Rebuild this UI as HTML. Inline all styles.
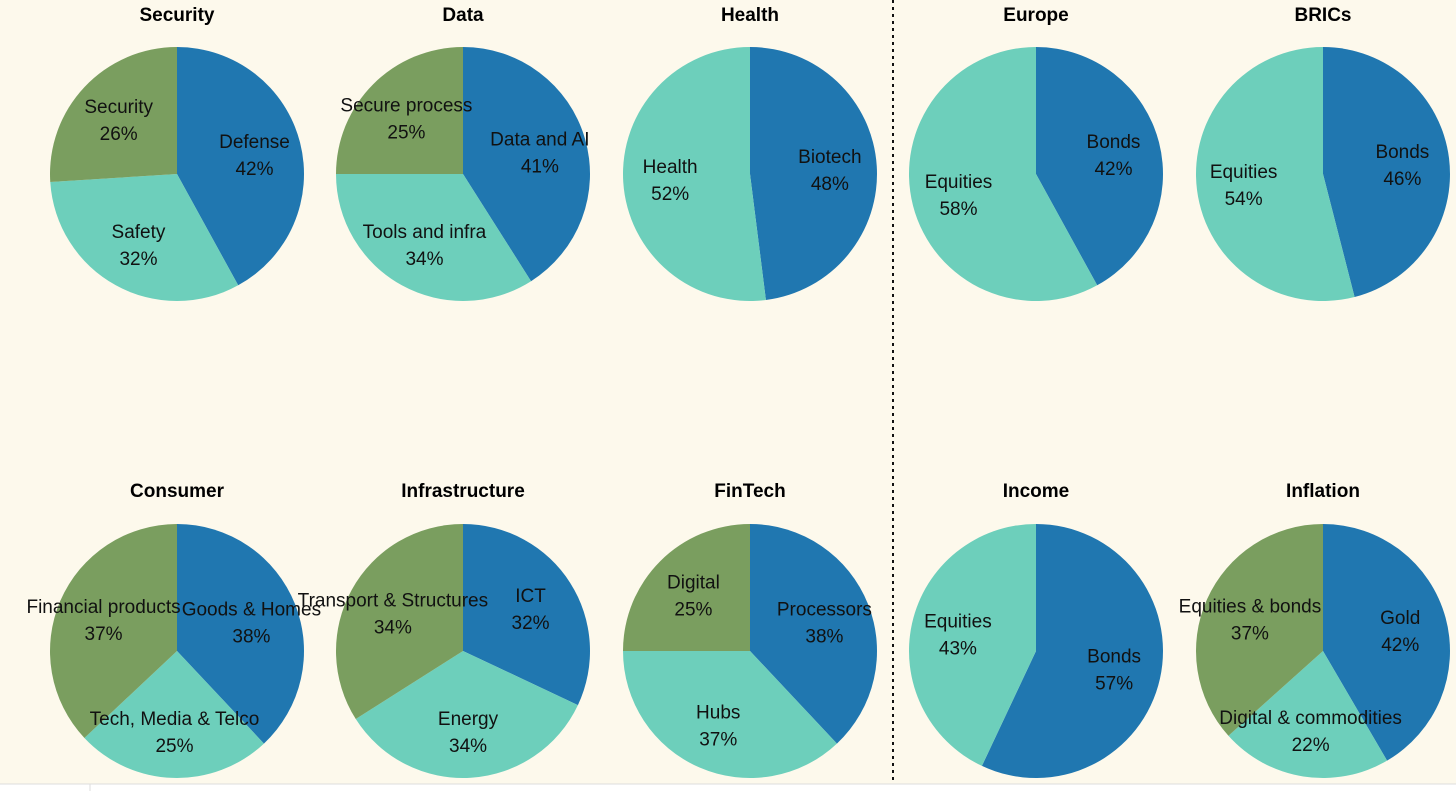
<!DOCTYPE html>
<html><head><meta charset="utf-8"><style>
html,body{margin:0;padding:0;background:#fdf9ec;}
svg{display:block;font-family:"Liberation Sans",sans-serif;}
</style></head><body>
<svg id="c" width="1456" height="791">
<rect x="0" y="0" width="1456" height="791" fill="#fdf9ec"/>
<rect x="0" y="784" width="1456" height="7" fill="#ffffff"/>
<line x1="0" y1="784" x2="1456" y2="784" stroke="#dddddd"/>
<line x1="90" y1="784" x2="90" y2="791" stroke="#dddddd"/>
<line x1="893" y1="0" x2="893" y2="780" stroke="#111" stroke-width="2" stroke-dasharray="3,4"/>
</svg>
<script>
const titles = ["Security","Data","Health","Europe","BRICs","Consumer","Infrastructure","FinTech","Income","Inflation"];
const sliceLabels = [
 ["Defense","Safety","Security"],
 ["Data and AI","Tools and infra","Secure process"],
 ["Biotech","Health"],
 ["Bonds","Equities"],
 ["Bonds","Equities"],
 ["Goods & Homes","Tech, Media & Telco","Financial products"],
 ["ICT","Energy","Transport & Structures"],
 ["Processors","Hubs","Digital"],
 ["Bonds","Equities"],
 ["Gold","Digital & commodities","Equities & bonds"]
];
const sliceValues = [
 [42,32,26],[41,34,25],[48,52],[42,58],[46,54],
 [38,25,37],[32,34,34],[38,37,25],[57,43],[42,22,37]
];
const svg = document.getElementById('c');
const NS = 'http://www.w3.org/2000/svg';
const colors = ['#2077b0','#6dcfbb','#7a9e5f'];
const cxs = [177,463,750,1036,1323];
const R = 127;
function mk(tag, attrs){const e=document.createElementNS(NS,tag);for(const k in attrs)e.setAttribute(k,attrs[k]);svg.appendChild(e);return e;}
titles.forEach((t,i)=>{
  const cx = cxs[i%5], cy = i<5?174:651, ty = i<5?14:490;
  const tt = mk('text',{x:cx,y:ty+7,'text-anchor':'middle','font-size':19,'font-weight':'bold',fill:'#000'});
  tt.textContent = t;
  
  
  const vals = sliceValues[i];
  const total = vals.reduce((a,b)=>a+b,0);
  let a0 = 0;
  const labels=[];
  vals.forEach((v,j)=>{
    const a1 = a0 + v/total*2*Math.PI;
    const x0 = cx+R*Math.sin(a0), y0 = cy-R*Math.cos(a0);
    const x1 = cx+R*Math.sin(a1), y1 = cy-R*Math.cos(a1);
    const large = (a1-a0)>Math.PI?1:0;
    const p = mk('path',{d:`M${cx},${cy} L${x0},${y0} A${R},${R} 0 ${large} 1 ${x1},${y1} Z`,fill:colors[j]});
    
    
    const am = (a0+a1)/2;
    labels.push([cx+0.63*R*Math.sin(am), cy-0.63*R*Math.cos(am), sliceLabels[i][j], Math.round(v/total*100)+'%']);
    a0 = a1;
  });
  labels.forEach(l=>{
    const t1 = mk('text',{x:l[0],y:l[1]-6,'text-anchor':'middle','font-size':19,fill:'#111'});
    t1.textContent = l[2];
    
    
    const t2 = mk('text',{x:l[0],y:l[1]+21,'text-anchor':'middle','font-size':19,fill:'#111'});
    t2.textContent = l[3];
    
    
  });
});
</script>
</body></html>
